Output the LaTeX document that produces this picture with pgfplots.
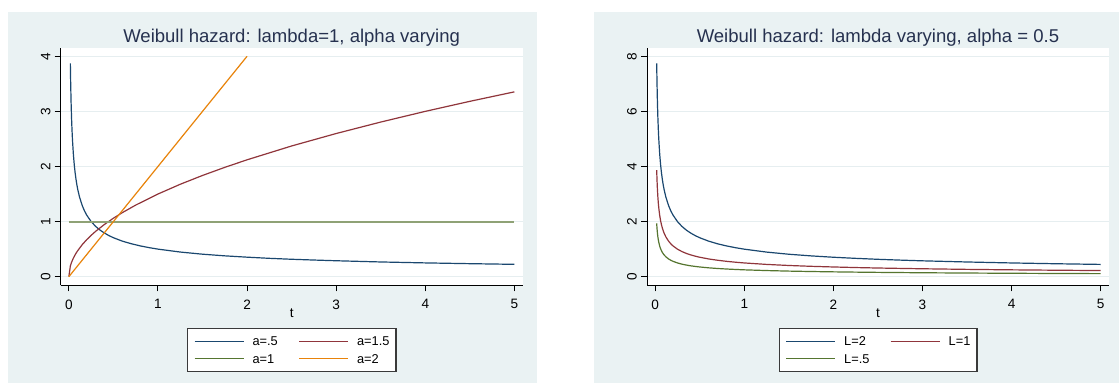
\documentclass[border=0pt]{standalone}
\usepackage{fontspec}
\setmainfont{Liberation Sans}
\usepackage{pgfplots}
\pgfplotsset{compat=1.18}
\usepackage{pgfplotstable}

\definecolor{bgc}{HTML}{EAF2F3}
\definecolor{gridc}{HTML}{E6EEF0}
\definecolor{titlec}{HTML}{26314F}
\definecolor{snavy}{HTML}{1A476F}
\definecolor{smaroon}{HTML}{90353B}
\definecolor{sgreen}{HTML}{55752F}
\definecolor{sgreenlt}{HTML}{8FA276}
\definecolor{sorange}{HTML}{E8830A}
\definecolor{legc}{HTML}{3A3A3A}

% t, 2*0.5*t^-0.5 (L=2), 0.5*t^-0.5 (L=1 / a=.5), 0.25*t^-0.5 (L=.5)
\pgfplotstableread{
t      Ltwo   Lone   Lhalf
0.0167 7.738  3.869  1.935
0.02   7.071  3.536  1.768
0.025  6.325  3.162  1.581
0.03   5.774  2.887  1.443
0.035  5.345  2.673  1.336
0.04   5.000  2.500  1.250
0.05   4.472  2.236  1.118
0.06   4.082  2.041  1.021
0.07   3.780  1.890  0.945
0.08   3.536  1.768  0.884
0.09   3.333  1.667  0.833
0.1    3.162  1.581  0.791
0.12   2.887  1.443  0.722
0.15   2.582  1.291  0.645
0.175  2.390  1.195  0.598
0.2    2.236  1.118  0.559
0.25   2.000  1.000  0.500
0.3    1.826  0.913  0.456
0.35   1.690  0.845  0.423
0.4    1.581  0.791  0.395
0.45   1.491  0.745  0.373
0.5    1.414  0.707  0.354
0.6    1.291  0.645  0.323
0.7    1.195  0.598  0.299
0.8    1.118  0.559  0.280
0.9    1.054  0.527  0.264
1      1.000  0.500  0.250
1.25   0.894  0.447  0.224
1.5    0.816  0.408  0.204
1.75   0.756  0.378  0.189
2      0.707  0.354  0.177
2.25   0.667  0.333  0.167
2.5    0.632  0.316  0.158
2.75   0.603  0.302  0.151
3      0.577  0.289  0.144
3.5    0.535  0.267  0.134
4      0.500  0.250  0.125
4.5    0.471  0.236  0.118
5      0.447  0.224  0.112
}\hazhalf

\pgfplotstableread{
t      h
0      0
0.0167 0.194
0.03   0.260
0.05   0.335
0.075  0.411
0.1    0.474
0.15   0.581
0.2    0.671
0.25   0.750
0.3    0.822
0.4    0.949
0.5    1.061
0.6    1.162
0.75   1.299
1      1.500
1.25   1.677
1.5    1.837
1.75   1.984
2      2.121
2.5    2.372
3      2.598
3.5    2.806
4      3.000
4.5    3.182
5      3.354
}\hazonefive

\pgfplotsset{
  stata/.style={
    scale only axis, width=346.5pt, height=177.75pt,
    axis x line*=bottom, axis y line*=left,
    axis line style={-, black, line width=0.75pt},
    tick align=outside, major tick length=4.5pt,
    tick style={black, line width=0.75pt},
    xtick pos=bottom, ytick pos=left,
    ymajorgrids, grid style={gridc, line width=1.1pt},
    axis background/.style={fill=white},
    xmin=-0.092, xmax=5.093, xtick={0,1,2,3,4,5},
    /pgf/number format/assume math mode=true,
    ticklabel style={font=\fontsize{10.2}{12}\selectfont},
    yticklabel style={xshift=-3pt, rotate=90, anchor=south, inner sep=0pt},
    xticklabel style={anchor=north, inner sep=0pt, yshift=-6pt},
    every axis title shift=0pt,
    title style={font=\fontsize{13.9}{15}\selectfont, color=titlec, at={(0.5,1)}, anchor=base, yshift=4.6pt, inner sep=0pt},
    xlabel={t},
    xlabel style={at={(axis description cs:0.5,0)}, anchor=base, yshift=-24pt, font=\fontsize{10.2}{12}\selectfont, inner sep=0pt},
    legend columns=2, legend cell align=left,
    legend image code/.code={\draw[#1, line width=0.9pt] (0pt,0pt) -- (36.75pt,0pt);},
    legend style={at={(0.5,0)}, anchor=north, yshift=-32.25pt,
      draw=none, fill=white,
      inner xsep=4.7pt, inner ysep=6.1pt, row sep=6.3pt,
      nodes={inner sep=0pt, text height=6.9pt, text depth=0pt, font=\fontsize{9.6}{11}\selectfont},
      /tikz/every odd column/.append style={column sep=6.3pt},
      /tikz/every even column/.append style={column sep=15.5pt}},
    every axis plot/.append style={line width=0.9pt},
  }
}

\begin{document}
\begin{tikzpicture}
\useasboundingbox (0,0) rectangle (839.25pt,287.25pt);
\fill[white] (0,0) rectangle (839.25pt,287.25pt);
\fill[bgc] (5.625pt,0) rectangle (402.6pt,278.5pt);
\fill[bgc] (445.7pt,0) rectangle (839.25pt,278.5pt);

\begin{axis}[stata, at={(45.5pt,73.3pt)}, anchor=south west,
  ymin=-0.156, ymax=4.145, ytick={0,1,2,3,4},
  legend style={name=legA},
  title={Weibull hazard: lambda=1, alpha varying}]
\addplot[color=snavy] table[x=t, y=Lone] {\hazhalf};
\addlegendentry{a=.5}
\addplot[color=smaroon] table[x=t, y=h] {\hazonefive};
\addlegendentry{a=1.5}
\addplot[color=sgreenlt, line width=1.5pt, legend image post style={color=sgreen}] coordinates {(0,1) (5,1)};
\addlegendentry{a=1}
\addplot[color=sorange] coordinates {(0,0) (2,4)};
\addlegendentry{a=2}
\end{axis}
\draw[legc, line width=0.8pt] (legA.south west) rectangle (legA.north east);

\begin{axis}[stata, at={(485.25pt,73.3pt)}, anchor=south west,
  ymin=-0.31, ymax=8.29, ytick={0,2,4,6,8},
  legend style={name=legB},
  title={Weibull hazard: lambda varying, alpha = 0.5}]
\addplot[color=snavy] table[x=t, y=Ltwo] {\hazhalf};
\addlegendentry{L=2}
\addplot[color=smaroon] table[x=t, y=Lone] {\hazhalf};
\addlegendentry{L=1}
\addplot[color=sgreen] table[x=t, y=Lhalf] {\hazhalf};
\addlegendentry{L=.5}
\end{axis}
\draw[legc, line width=0.8pt] (legB.south west) rectangle (legB.north east);
\end{tikzpicture}
\end{document}
